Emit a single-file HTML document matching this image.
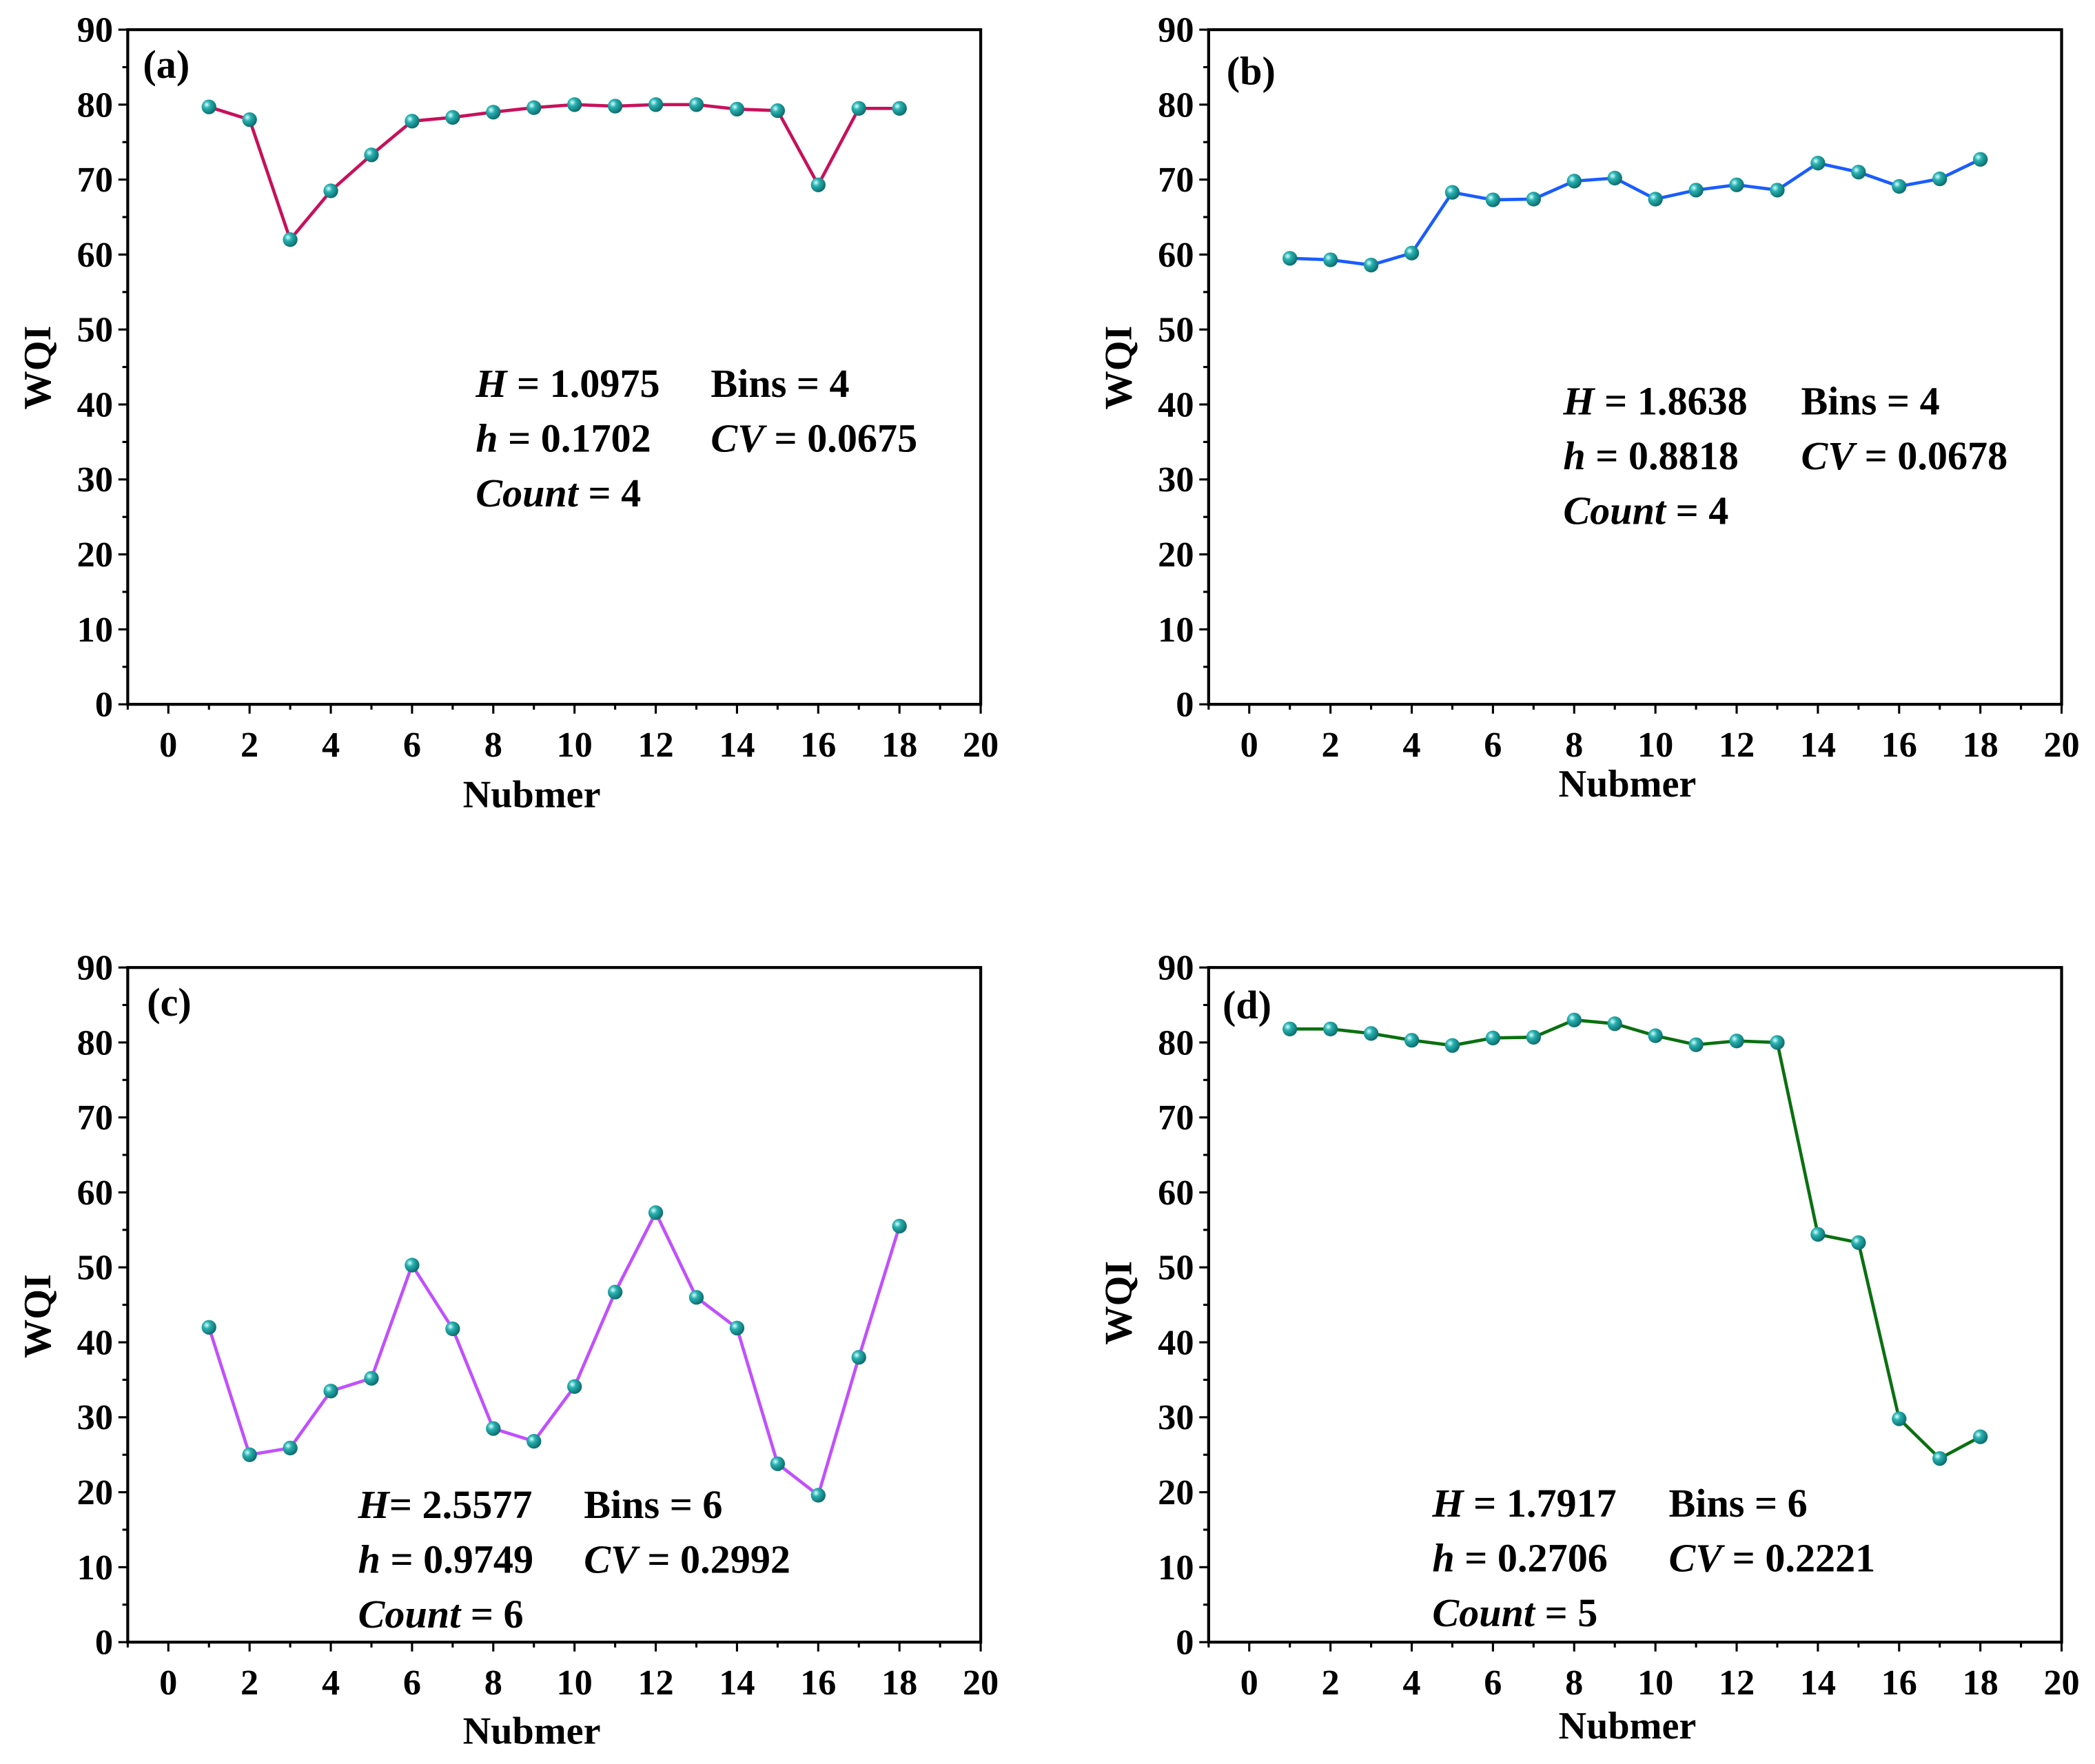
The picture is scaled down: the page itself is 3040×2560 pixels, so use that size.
<!DOCTYPE html>
<html><head><meta charset="utf-8"><style>
html,body{margin:0;padding:0;background:#fff;}
svg{display:block;}
text{font-family:"Liberation Serif",serif;font-weight:bold;fill:#000;}
</style></head><body>
<svg id="fig" width="3040" height="2560" viewBox="0 0 1568 1320" xmlns="http://www.w3.org/2000/svg">
<defs>
<radialGradient id="ball" cx="0.35" cy="0.35" r="0.7">
<stop offset="0" stop-color="#d8ffff"/><stop offset="0.35" stop-color="#28b0b0"/><stop offset="1" stop-color="#0a6868"/>
</radialGradient>
</defs>
</svg>
<script>
const xIdx = [1,2,3,4,5,6,7,8,9,10,11,12,13,14,15,16,17,18];
const seriesA = [79.7,78,62,68.5,73.3,77.8,78.3,79,79.6,80,79.8,80,80,79.4,79.2,69.3,79.5,79.5];
const seriesB = [59.5,59.3,58.6,60.2,68.3,67.3,67.4,69.8,70.2,67.4,68.6,69.3,68.6,72.2,71,69.1,70.1,72.7];
const seriesC = [42,25,25.9,33.5,35.2,50.3,41.8,28.5,26.8,34.1,46.7,57.3,46,41.9,23.8,19.6,38,55.5];
const seriesD = [81.8,81.8,81.2,80.3,79.6,80.6,80.7,83,82.5,80.9,79.7,80.2,80,54.4,53.3,29.8,24.5,27.4];
const xTicks = [0,2,4,6,8,10,12,14,16,18,20];
const yTicks = [0,10,20,30,40,50,60,70,80,90];
const statsA = ["1.0975","4","0.1702","0.0675","4"];
const statsB = ["1.8638","4","0.8818","0.0678","4"];
const statsC = ["2.5577","6","0.9749","0.2992","6"];
const statsD = ["1.7917","6","0.2706","0.2221","5"];

const NS="http://www.w3.org/2000/svg";
const svg=document.getElementById('fig');
function mk(tag,attrs,parent,txt){const e=document.createElementNS(NS,tag);for(const k in attrs)e.setAttribute(k,attrs[k]);if(txt!==undefined)e.textContent=txt;(parent||svg).appendChild(e);return e;}

const panels=[
 {id:'a',data:seriesA,color:'#c8105a',x0:126,y0:527,y90:22,stats:statsA,sx:356,sx2:532,sy:297,lx:107,ly:58,wy:275,nx:398,ny:604,eq:"H = "},
 {id:'b',data:seriesB,color:'#1a5cff',x0:935,y0:527,y90:22,stats:statsB,sx:1170,sx2:1348,sy:310,lx:918,ly:63,wy:275,nx:1218,ny:596,eq:"H = "},
 {id:'c',data:seriesC,color:'#c050ff',x0:126,y0:1229,y90:724,stats:statsC,sx:268,sx2:437,sy:1136,lx:110,ly:760,wy:985,nx:398,ny:1305,eq:"H= "},
 {id:'d',data:seriesD,color:'#0a7010',x0:935,y0:1229,y90:724,stats:statsD,sx:1072,sx2:1249,sy:1135,lx:915,ly:762,wy:975,nx:1218,ny:1301,eq:"H = "}
];
panels.forEach(p=>{
 const unit=30.4;
 const X=v=>p.x0+v*unit;
 const Y=v=>p.y0-(v/90)*(p.y0-p.y90);
 const g=mk('g',{});
 
 
 const left=X(-1), right=X(20);
 const frame=mk('rect',{x:left,y:p.y90,width:right-left,height:p.y0-p.y90,fill:'none',stroke:'#000','stroke-width':2.2},g);
 
 
 for(let v=-1;v<=20;v++){
  const major=v%2===0&&v>=0;
  mk('line',{x1:X(v),x2:X(v),y1:p.y0,y2:p.y0+(major?7:4),stroke:'#000','stroke-width':1.6},g);
 }
 xTicks.forEach(v=>{
  const t=mk('text',{x:X(v),y:p.y0+39,'text-anchor':'middle','font-size':27},g,String(v));
  
  
 });
 for(let v=0;v<=90;v+=5){
  const major=v%10===0;
  mk('line',{x1:left,x2:left-(major?7:4),y1:Y(v),y2:Y(v),stroke:'#000','stroke-width':1.6},g);
 }
 yTicks.forEach(v=>{
  const t=mk('text',{x:left-11,y:Y(v)+9,'text-anchor':'end','font-size':27},g,String(v));
  
  
 });
 const yt=mk('text',{x:0,y:0,'text-anchor':'middle','font-size':29,transform:`translate(${left-58},${p.wy}) rotate(-90)`},g,'WQI');
 
 
 const xt=mk('text',{x:p.nx,y:p.ny,'text-anchor':'middle','font-size':29},g,'Nubmer');
 
 
 const pl=mk('text',{x:p.lx,y:p.ly,'font-size':30},g,'('+p.id+')');
 
 
 const pts=p.data.map((v,i)=>X(xIdx[i])+','+Y(v)).join(' ');
 const line=mk('polyline',{points:pts,fill:'none',stroke:p.color,'stroke-width':2.4},g);
 
 
 p.data.forEach((v,i)=>{
  const c=mk('circle',{cx:X(xIdx[i]),cy:Y(v),r:5.5,fill:'url(#ball)'},g);
  
  
 });
 const s=p.stats, fs=30, dy=41;
 const st=mk('g',{},g);
 
 
 let t=mk('text',{x:p.sx,y:p.sy,'font-size':fs},st);
 mk('tspan',{'font-style':'italic'},t,'H');mk('tspan',{},t,p.eq.slice(1)+s[0]);
 mk('text',{x:p.sx2,y:p.sy,'font-size':fs},st,'Bins = '+s[1]);
 t=mk('text',{x:p.sx,y:p.sy+dy,'font-size':fs},st);
 mk('tspan',{'font-style':'italic'},t,'h');mk('tspan',{},t,' = '+s[2]);
 t=mk('text',{x:p.sx2,y:p.sy+dy,'font-size':fs},st);
 mk('tspan',{'font-style':'italic'},t,'CV');mk('tspan',{},t,' = '+s[3]);
 t=mk('text',{x:p.sx,y:p.sy+2*dy,'font-size':fs},st);
 mk('tspan',{'font-style':'italic'},t,'Count');mk('tspan',{},t,' = '+s[4]);
});
</script>
</body></html>
